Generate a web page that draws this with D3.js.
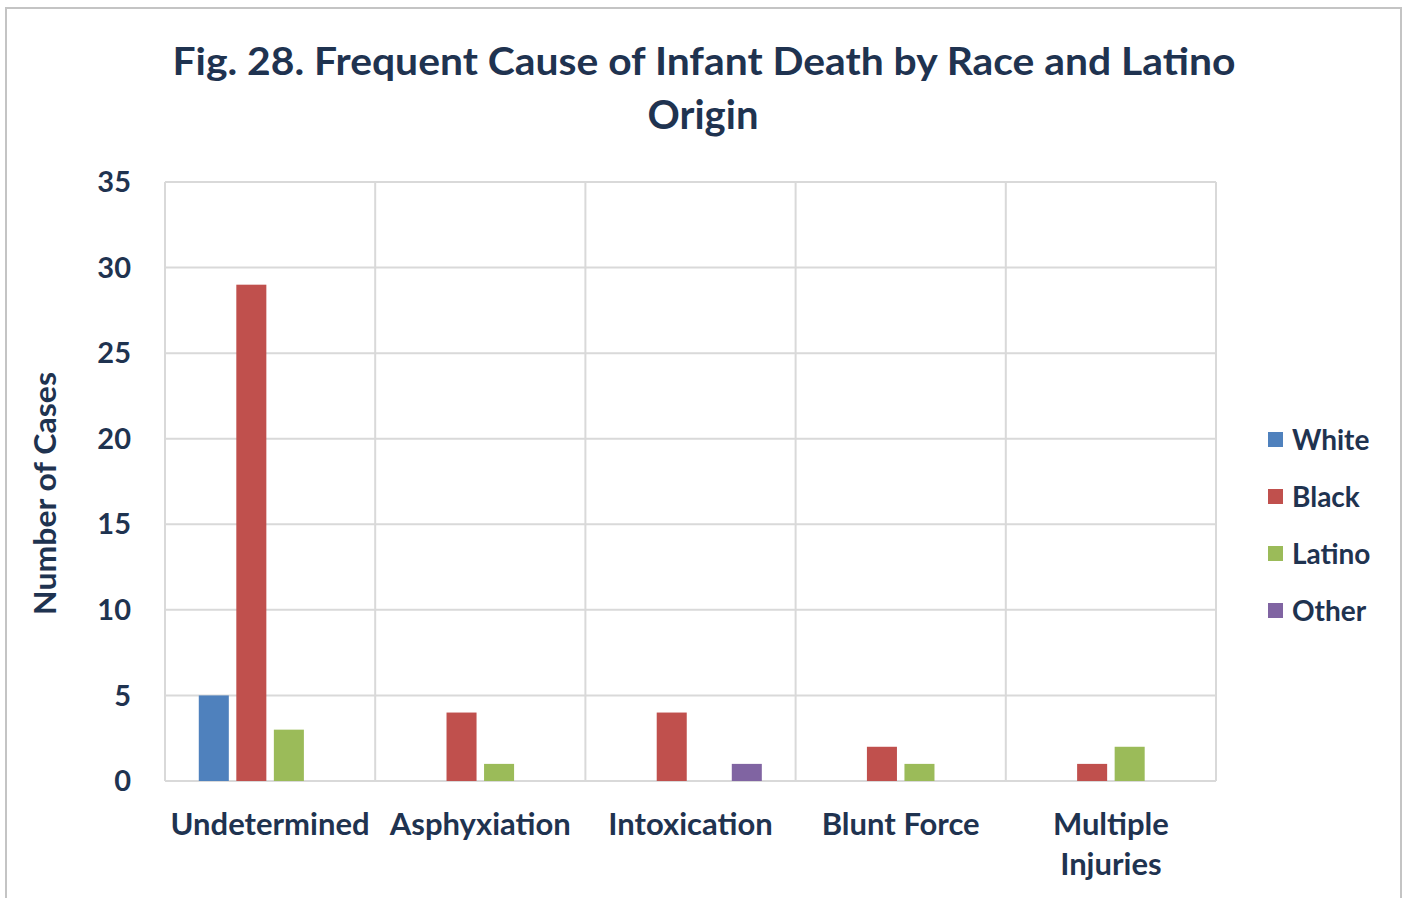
<!DOCTYPE html>
<html>
<head>
<meta charset="utf-8">
<script src="https://cdn.jsdelivr.net/npm/d3@7"></script>
<style>
  body { margin: 0; background: #fff; }
  text { font-family: Lato, "Open Sans", sans-serif; font-weight: bold; fill: #1f3350; }
</style>
</head>
<body>
<svg id="chart" width="1403" height="898"></svg>
<script>
var categories = ["Undetermined", "Asphyxiation", "Intoxication", "Blunt Force", "Multiple Injuries"];
var series = ["White", "Black", "Latino", "Other"];
var whiteVals = [5, 0, 0, 0, 0];
var blackVals = [29, 4, 4, 2, 1];
var latinoVals = [3, 1, 0, 1, 2];
var otherVals = [0, 0, 1, 0, 0];
var yTicks = [0, 5, 10, 15, 20, 25, 30, 35];
var colors = ["#4f81bd", "#c0504d", "#9bbb59", "#8064a2"];

var values = [whiteVals, blackVals, latinoVals, otherVals];
var margin = {top: 182, right: 187, bottom: 117, left: 165};
var width = 1403 - margin.left - margin.right;
var height = 898 - margin.top - margin.bottom;

var svg = d3.select("#chart");

// outer chart border
svg.append("rect")
   .attr("x", 6).attr("y", 8)
   .attr("width", 1395).attr("height", 900)
   .attr("fill", "none")
   .attr("stroke", "#c4c4c4")
   .attr("stroke-width", 2);

// title
svg.append("text")
   .attr("x", 704).attr("y", 75)
   .attr("text-anchor", "middle")
   .attr("font-size", 38)
   .attr("textLength", 1063)
   .attr("lengthAdjust", "spacingAndGlyphs")
   .text("Fig. 28. Frequent Cause of Infant Death by Race and Latino");
svg.append("text")
   .attr("x", 703).attr("y", 129)
   .attr("text-anchor", "middle")
   .attr("font-size", 40)
   .text("Origin");

var chart = svg.append("g")
   .attr("transform", "translate(" + margin.left + "," + margin.top + ")");

var x0 = d3.scaleBand().domain(categories).range([0, width]);
var x1 = d3.scaleBand().domain(series).range([0, x0.bandwidth()]).paddingInner(0.2).paddingOuter(0.9);
var y = d3.scaleLinear().domain([0, 35]).range([height, 0]);

// gridlines
chart.selectAll(".hgrid")
   .data(yTicks)
   .enter().append("line")
   .attr("x1", 0).attr("x2", width)
   .attr("y1", function(d) { return y(d); })
   .attr("y2", function(d) { return y(d); })
   .attr("stroke", "#d9d9d9").attr("stroke-width", 2);

var vlines = categories.map(function(c) { return x0(c); }).concat([width]);
chart.selectAll(".vgrid")
   .data(vlines)
   .enter().append("line")
   .attr("x1", function(d) { return d; }).attr("x2", function(d) { return d; })
   .attr("y1", 0).attr("y2", height)
   .attr("stroke", "#d9d9d9").attr("stroke-width", 2);

// y tick labels
chart.selectAll(".ytick")
   .data(yTicks)
   .enter().append("text")
   .attr("x", -34)
   .attr("y", function(d) { return y(d); })
   .attr("dy", "0.35em")
   .attr("text-anchor", "end")
   .attr("font-size", 29)
   .text(function(d) { return d; });

// y axis title
svg.append("text")
   .attr("transform", "translate(56," + (margin.top + height / 2 + 12) + ") rotate(-90)")
   .attr("text-anchor", "middle")
   .attr("font-size", 30)
   .attr("font-weight", 900)
   .attr("textLength", 243)
   .attr("lengthAdjust", "spacingAndGlyphs")
   .text("Number of Cases");

// bars
var groups = chart.selectAll(".cat")
   .data(categories)
   .enter().append("g")
   .attr("transform", function(c) { return "translate(" + x0(c) + ",0)"; });

groups.selectAll("rect")
   .data(function(c, i) {
     return series.map(function(s, j) { return {series: s, value: values[j][i], color: colors[j]}; });
   })
   .enter().append("rect")
   .attr("x", function(d) { return x1(d.series); })
   .attr("y", function(d) { return y(d.value); })
   .attr("width", x1.bandwidth())
   .attr("height", function(d) { return height - y(d.value); })
   .attr("fill", function(d) { return d.color; });

// category labels
groups.append("text")
   .attr("x", x0.bandwidth() / 2)
   .attr("y", height + 54)
   .attr("text-anchor", "middle")
   .attr("font-size", 31)
   .each(function(c) {
     var words = c === "Multiple Injuries" ? ["Multiple", "Injuries"] : [c];
     var t = d3.select(this);
     words.forEach(function(w, k) {
       t.append("tspan")
        .attr("x", x0.bandwidth() / 2)
        .attr("dy", k === 0 ? 0 : 40)
        .text(w);
     });
   });

// legend
var legend = svg.append("g").attr("transform", "translate(1268,432)");
var items = legend.selectAll("g")
   .data(series)
   .enter().append("g")
   .attr("transform", function(d, i) { return "translate(0," + (i * 57) + ")"; });
items.append("rect")
   .attr("width", 15).attr("height", 15)
   .attr("fill", function(d, i) { return colors[i]; });
items.append("text")
   .attr("x", 24).attr("y", 8)
   .attr("dy", "0.35em")
   .attr("font-size", 28)
   .text(function(d) { return d; });
</script>
</body>
</html>
